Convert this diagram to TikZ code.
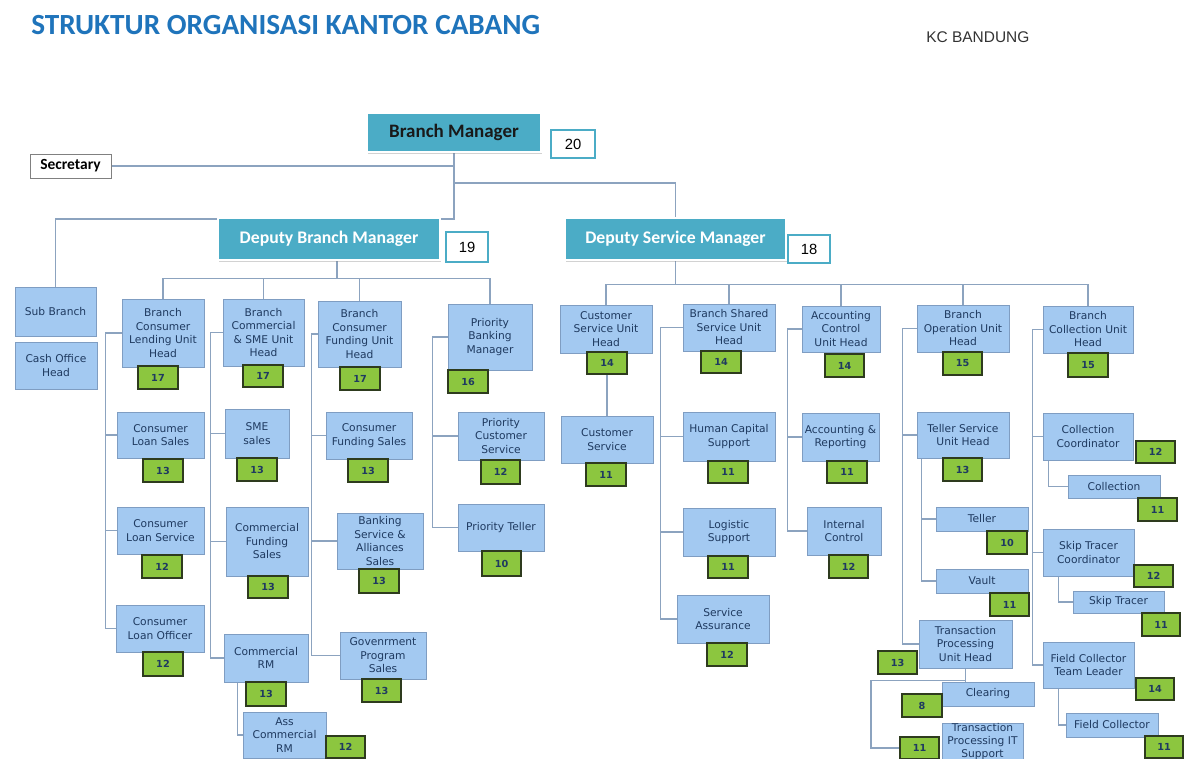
\documentclass[tikz,border=0pt]{standalone}
\usepackage{fontspec}
\usepackage{xcolor}
\usetikzlibrary{shadows, backgrounds}
\newfontfamily\boxfont{DejaVu Sans}
\newfontfamily\headfont{Carlito}
\newfontfamily\numfont{Liberation Sans}
\definecolor{unitblue}{HTML}{A3C9F1}
\definecolor{unitedge}{HTML}{7F9DC2}
\definecolor{unittext}{HTML}{1F3A60}
\definecolor{gradegreen}{HTML}{8CC63F}
\definecolor{gradeedge}{HTML}{2E3B1E}
\definecolor{headteal}{HTML}{4BACC6}
\definecolor{linkgray}{HTML}{8CA3BF}
\definecolor{titleblue}{HTML}{1F74BB}

\tikzset{
  sized/.style 2 args={minimum width=#1*0.025cm, minimum height=#2*0.025cm},
  unit/.style={draw=unitedge, fill=unitblue, line width=0.6pt, inner sep=0pt,
    align=center, text=unittext, font=\boxfont\fontsize{7.6}{9.6}\selectfont},
  grade/.style={draw=gradeedge, fill=gradegreen, line width=0.9pt, inner sep=0pt,
    text=unittext, font=\boxfont\bfseries\fontsize{6.9}{8}\selectfont},
  head/.style={fill=headteal, draw=white, line width=2pt, inner sep=0pt,
    drop shadow={shadow xshift=0.6pt, shadow yshift=-1.2pt, opacity=0.35},
    font=\headfont\bfseries\fontsize{12.6}{14}\selectfont, text=white},
  headno/.style={fill=white, draw=headteal, line width=1.6pt, inner sep=0pt,
    font=\numfont\fontsize{10.5}{12}\selectfont},
  link/.style={draw=linkgray, line width=0.9pt}
}

\begin{document}
\begin{tikzpicture}[x=0.025cm, y=-0.025cm]
  \useasboundingbox (0,0) rectangle (1193,758);
  \clip (0,0) rectangle (1193,758);
  % judul
  \node[anchor=west, inner sep=0pt, text=titleblue,
    font=\headfont\bfseries\fontsize{20.8}{24}\selectfont] (title) at (31,25)
    {STRUKTUR ORGANISASI KANTOR CABANG};
  \node[anchor=west, inner sep=0pt, text=black!80,
    font=\numfont\fontsize{11}{13}\selectfont] (kc) at (926,37.5) {KC BANDUNG};
  % pimpinan
  \node[head, sized={174}{39}, text=black!90,
    font=\headfont\bfseries\fontsize{13.5}{15}\selectfont] (bm) at (454,132.5) {Branch Manager};
  \node[headno, sized={44}{28}] (bm-no) at (573,144) {20};
  \node[draw=black!50, fill=white, inner sep=0pt, line width=0.6pt, sized={81}{24},
    font=\headfont\bfseries\fontsize{11}{13}\selectfont] (sec) at (70.5,166) {Secretary};
  \node[head, sized={222}{42}] (dbm) at (329,239) {Deputy Branch Manager};
  \node[headno, sized={42}{30}] (dbm-no) at (467,247) {19};
  \node[head, sized={221}{42}] (dsm) at (675.5,239) {Deputy Service Manager};
  \node[headno, sized={42}{28}] (dsm-no) at (809,249) {18};
  % sub branch
  \node[unit, sized={81}{49}] (sub) at (55.5,311.5) {Sub Branch};
  \node[unit, sized={82}{47}] (cash) at (56,365.5) {Cash Office\\Head};
  % consumer lending
  \node[unit, sized={82}{68}] (bclu) at (163,333) {Branch\\Consumer\\Lending Unit\\Head};
  \node[grade, sized={40}{23}] (bclu-g) at (158,377.5) {17};
  \node[unit, sized={87}{46}] (cls) at (160.5,435) {Consumer\\Loan Sales};
  \node[grade, sized={40}{23}] (cls-g) at (163,470.5) {13};
  \node[unit, sized={87}{47}] (clsv) at (160.5,530.5) {Consumer\\Loan Service};
  \node[grade, sized={40}{23}] (clsv-g) at (162,566.5) {12};
  \node[unit, sized={88}{47}] (clo) at (160,628.5) {Consumer\\Loan Officer};
  \node[grade, sized={40}{24}] (clo-g) at (163,664) {12};
  % commercial & SME
  \node[unit, sized={81}{67}] (bcsu) at (263.5,332.5) {Branch\\Commercial\\\& SME Unit\\Head};
  \node[grade, sized={40}{22}] (bcsu-g) at (263,376) {17};
  \node[unit, sized={64}{49}] (sme) at (257,433.5) {SME\\sales};
  \node[grade, sized={40}{23}] (sme-g) at (257,469.5) {13};
  \node[unit, sized={82}{69}] (cfs) at (267,541.5) {Commercial\\Funding\\Sales};
  \node[grade, sized={40}{22}] (cfs-g) at (268,587) {13};
  \node[unit, sized={84}{48}] (crm) at (266,658) {Commercial\\RM};
  \node[grade, sized={40}{24}] (crm-g) at (266,694) {13};
  \node[unit, sized={83}{46}] (acrm) at (284.5,735) {Ass\\Commercial\\RM};
  \node[grade, sized={39}{22}] (acrm-g) at (345.5,747) {12};
  % consumer funding
  \node[unit, sized={83}{66}] (bcfu) at (359.5,334) {Branch\\Consumer\\Funding Unit\\Head};
  \node[grade, sized={40}{23}] (bcfu-g) at (360,378.5) {17};
  \node[unit, sized={86}{47}] (cfund) at (369,435.5) {Consumer\\Funding Sales};
  \node[grade, sized={40}{23}] (cfund-g) at (368,470.5) {13};
  \node[unit, sized={86}{56}] (bsas) at (380,541) {Banking\\Service \&\\Alliances\\Sales};
  \node[grade, sized={40}{24}] (bsas-g) at (379,581) {13};
  \node[unit, sized={86}{47}] (gps) at (383,655.5) {Govenrment\\Program\\Sales};
  \node[grade, sized={39}{23}] (gps-g) at (381.5,690.5) {13};
  % priority banking
  \node[unit, sized={84}{66}] (pbm) at (490,337) {Priority\\Banking\\Manager};
  \node[grade, sized={40}{23}] (pbm-g) at (468,381.5) {16};
  \node[unit, sized={86}{48}] (pcs) at (501,436) {Priority\\Customer\\Service};
  \node[grade, sized={39}{24}] (pcs-g) at (500.5,472) {12};
  \node[unit, sized={86}{47}] (pt) at (501,527.5) {Priority Teller};
  \node[grade, sized={39}{25}] (pt-g) at (501.5,563.5) {10};
  % customer service
  \node[unit, sized={92}{48}] (csu) at (606,329) {Customer\\Service Unit\\Head};
  \node[grade, sized={40}{22}] (csu-g) at (607,363) {14};
  \node[unit, sized={92}{47}] (cs) at (607,439.5) {Customer\\Service};
  \node[grade, sized={40}{23}] (cs-g) at (606,474.5) {11};
  % shared service
  \node[unit, sized={92}{47}] (bssu) at (729,327.5) {Branch Shared\\Service Unit\\Head};
  \node[grade, sized={40}{22}] (bssu-g) at (721,362) {14};
  \node[unit, sized={92}{49}] (hcs) at (729,436.5) {Human Capital\\Support};
  \node[grade, sized={40}{22}] (hcs-g) at (728,472) {11};
  \node[unit, sized={92}{48}] (ls) at (729,532) {Logistic\\Support};
  \node[grade, sized={40}{22}] (ls-g) at (728,567) {11};
  \node[unit, sized={92}{48}] (sa) at (723,619) {Service\\Assurance};
  \node[grade, sized={40}{23}] (sa-g) at (727,654.5) {12};
  % accounting control
  \node[unit, sized={78}{46}] (acu) at (841,329) {Accounting\\Control\\Unit Head};
  \node[grade, sized={39}{23}] (acu-g) at (844.5,365.5) {14};
  \node[unit, sized={77}{48}] (ar) at (840.5,437) {Accounting \&\\Reporting};
  \node[grade, sized={40}{22}] (ar-g) at (847,472) {11};
  \node[unit, sized={74}{48}] (ic) at (844,531) {Internal\\Control};
  \node[grade, sized={39}{23}] (ic-g) at (848.5,566.5) {12};
  % operation
  \node[unit, sized={92}{47}] (bou) at (963,328.5) {Branch\\Operation Unit\\Head};
  \node[grade, sized={39}{23}] (bou-g) at (962.5,363.5) {15};
  \node[unit, sized={92}{46}] (tsu) at (963,435) {Teller Service\\Unit Head};
  \node[grade, sized={39}{23}] (tsu-g) at (962.5,469.5) {13};
  \node[unit, sized={92}{24}] (teller) at (982,519) {Teller};
  \node[grade, sized={40}{23}] (teller-g) at (1007,542.5) {10};
  \node[unit, sized={92}{24}] (vault) at (982,581) {Vault};
  \node[grade, sized={39}{23}] (vault-g) at (1009.5,604.5) {11};
  \node[unit, sized={93}{48}] (tpu) at (965.5,644) {Transaction\\Processing\\Unit Head};
  \node[grade, sized={39}{23}] (tpu-g) at (897.5,662.5) {13};
  \node[unit, sized={92}{24}] (clear) at (988,694) {Clearing};
  \node[grade, sized={40}{23}] (clear-g) at (922,705.5) {8};
  \node[unit, sized={81}{33}, font=\boxfont\fontsize{7.6}{9}\selectfont] (tpit) at (982.5,741.5)
    {Transaction\\Processing IT\\Support};
  \node[grade, sized={39}{22}] (tpit-g) at (919.5,748) {11};
  % collection
  \node[unit, sized={90}{47}] (bcol) at (1088,329.5) {Branch\\Collection Unit\\Head};
  \node[grade, sized={40}{24}] (bcol-g) at (1088,365) {15};
  \node[unit, sized={90}{47}] (cc) at (1088,436.5) {Collection\\Coordinator};
  \node[grade, sized={39}{22}] (cc-g) at (1155.5,452) {12};
  \node[unit, sized={92}{23}] (coll) at (1114,486.5) {Collection};
  \node[grade, sized={39}{23}] (coll-g) at (1157.5,509.5) {11};
  \node[unit, sized={91}{47}] (stc) at (1088.5,552.5) {Skip Tracer\\Coordinator};
  \node[grade, sized={39}{22}] (stc-g) at (1153.5,576) {12};
  \node[unit, sized={91}{22}] (st) at (1118.5,602) {Skip Tracer};
  \node[grade, sized={38}{23}] (st-g) at (1161,624.5) {11};
  \node[unit, sized={91}{46}] (fctl) at (1088.5,665) {Field Collector\\Team Leader};
  \node[grade, sized={38}{22}] (fctl-g) at (1155,689) {14};
  \node[unit, sized={92}{24}] (fc) at (1112,725) {Field Collector};
  \node[grade, sized={38}{22}] (fc-g) at (1164,747) {11};

  \begin{scope}[on background layer]
    \fill[white] (0,0) rectangle (1193,758);
    % garis pimpinan
    \coordinate (bmj) at (bm.south |- 0,219);
    \draw[link] (sec.east) -- (sec.east -| bm.south);
    \draw[link] (bm.south) -- (bmj) -| (sub.north);
    \draw[link] (bm.south |- 0,183) -| (dsm.north);
    % bawah deputy branch manager
    \draw[link] (dbm.south) ++(8,0) -- ++(0,17) coordinate (dbmbus);
    \draw[link] (bclu.north) |- (dbmbus) -| (pbm.north);
    \draw[link] (bcsu.north) -- (bcsu.north |- dbmbus);
    \draw[link] (bcfu.north) -- (bcfu.north |- dbmbus);
    % bawah deputy service manager
    \draw[link] (dsm.south) -- ++(0,23) coordinate (dsmbus);
    \draw[link] (csu.north) |- (dsmbus) -| (bcol.north);
    \draw[link] (bssu.north) -- (bssu.north |- dsmbus);
    \draw[link] (acu.north) -- (acu.north |- dsmbus);
    \draw[link] (bou.north) -- (bou.north |- dsmbus);
    % consumer lending
    \draw[link] (bclu.west) -- ++(-16,0) coordinate (clbus) |- (clo.west);
    \draw[link] (clbus |- cls.west) -- (cls.west);
    \draw[link] (clbus |- clsv.west) -- (clsv.west);
    % commercial & SME
    \draw[link] (bcsu.west) -- ++(-12,0) coordinate (csbus) |- (crm.west);
    \draw[link] (csbus |- sme.west) -- (sme.west);
    \draw[link] (csbus |- cfs.west) -- (cfs.west);
    \draw[link] (crm.south west) ++(14,0) |- (acrm.west);
    % consumer funding
    \draw[link] (bcfu.west) -- ++(-6,0) coordinate (cfbus) |- (gps.west);
    \draw[link] (cfbus |- cfund.west) -- (cfund.west);
    \draw[link] (cfbus |- bsas.west) -- (bsas.west);
    % priority
    \draw[link] (pbm.west) -- ++(-15,0) coordinate (pbbus) |- (pt.west);
    \draw[link] (pbbus |- pcs.west) -- (pcs.west);
    % customer service
    \draw[link] (csu-g.south) -- (cs.north);
    % shared service
    \draw[link] (bssu.west) -- ++(-22,0) coordinate (ssbus) |- (sa.west);
    \draw[link] (ssbus |- hcs.west) -- (hcs.west);
    \draw[link] (ssbus |- ls.west) -- (ls.west);
    % accounting
    \draw[link] (acu.west) -- ++(-14,0) coordinate (acbus) |- (ic.west);
    \draw[link] (acbus |- ar.west) -- (ar.west);
    % operation
    \draw[link] (bou.west) -- ++(-14,0) coordinate (opbus) |- (tpu.west);
    \draw[link] (opbus |- tsu.west) -- (tsu.west);
    \draw[link] (tsu.south west) ++(5,0) coordinate (tsbus) |- (vault.west);
    \draw[link] (tsbus |- teller.west) -- (teller.west);
    \draw[link] (tpu.south) -- (tpu.south |- clear.north);
    \draw[link] (tpu.south) ++(0,12) -| (tpit-g.west -| 871,0) -- (tpit-g.west);
    % collection
    \draw[link] (bcol.west) -- ++(-10,0) coordinate (colbus) |- (fctl.west);
    \draw[link] (colbus |- cc.west) -- (cc.west);
    \draw[link] (colbus |- stc.west) -- (stc.west);
    \draw[link] (cc.south west) ++(6,0) |- (coll.west);
    \draw[link] (stc.south west) ++(16,0) |- (st.west);
    \draw[link] (fctl.south west) ++(16,0) |- (fc.west);
  \end{scope}
\end{tikzpicture}
\end{document}
